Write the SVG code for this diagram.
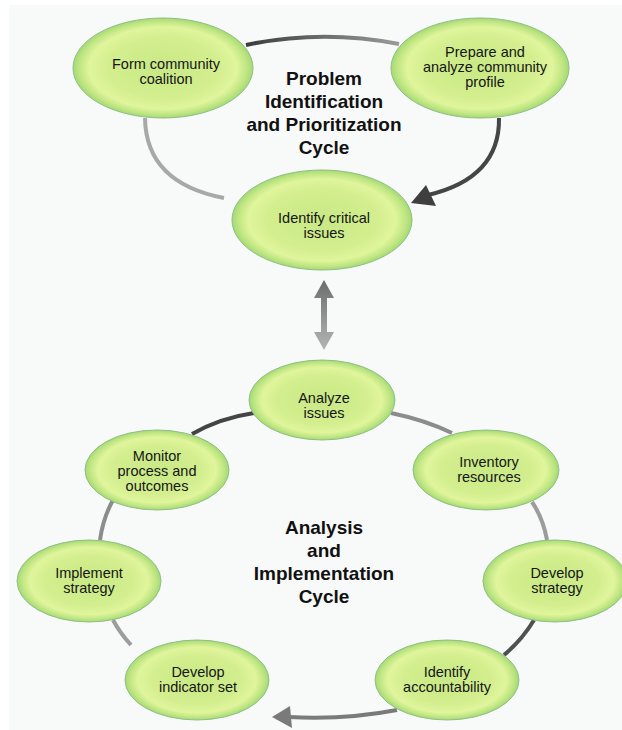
<svg xmlns="http://www.w3.org/2000/svg" width="622" height="730" viewBox="0 0 622 730">
<defs>
<radialGradient id="gEll" cx="50%" cy="50%" r="50%">
<stop offset="0" stop-color="#c8e985"/>
<stop offset="0.6" stop-color="#d3ee8e"/>
<stop offset="0.82" stop-color="#e0f59c"/>
<stop offset="0.93" stop-color="#c0e683"/>
<stop offset="1" stop-color="#a3da74"/>
</radialGradient>
<linearGradient id="gTop" x1="0" y1="0" x2="1" y2="0">
<stop offset="0" stop-color="#3c3c3c"/>
<stop offset="1" stop-color="#9a9a9a"/>
</linearGradient>
<linearGradient id="gVert" x1="0" y1="0" x2="0" y2="1">
<stop offset="0" stop-color="#6c6c6c"/>
<stop offset="1" stop-color="#b4b4b4"/>
</linearGradient>
</defs>
<style>
.node ellipse{fill:url(#gEll);stroke:#8fbf85;stroke-width:1}
.node text{font-family:"Liberation Sans","Lato",sans-serif;font-size:14.5px;fill:#151515;text-anchor:middle}
.title{font-family:"Liberation Sans","Lato",sans-serif;font-weight:bold;font-size:19px;fill:#111;text-anchor:middle}
.c{fill:none;stroke-width:4;stroke-linecap:butt}
</style>
<rect x="0" y="0" width="622" height="730" fill="#ffffff"/>
<rect x="9" y="5" width="613" height="725" fill="#f8f9f9"/>

<g id="connectors">
<path class="c" d="M246,45 Q322,29 399,44" stroke="url(#gTop)"/>
<path class="c" d="M145,118 Q146,183 224,198" stroke="#a8a8a8"/>
<path class="c" d="M499,118 Q500,178 428,195" stroke="#454545"/>
<polygon points="411,203 426,185 436,206" fill="#3f3f3f"/>
<polygon points="324,280 334,298 327,298 327,332 334,332 324,350 314,332 321,332 321,298 314,298" fill="url(#gVert)"/>
<path class="c" d="M192,434 Q220,418 254,413" stroke="#444"/>
<path class="c" d="M391,413 Q425,420 452,433" stroke="#8c8c8c"/>
<path class="c" d="M532,502 Q543,518 547,540" stroke="#9c9c9c"/>
<path class="c" d="M534,620 Q522,640 504,655" stroke="#505050"/>
<path class="c" d="M397,710 Q345,720 289,717" stroke="#7a7a7a"/>
<polygon points="272,717 290,706 292,728" fill="#7a7a7a"/>
<path class="c" d="M131,645 Q120,633 113,620" stroke="#9c9c9c"/>
<path class="c" d="M100,540 Q103,518 113,500" stroke="#8c8c8c"/>
</g>

<text class="title" x="324" y="85">Problem</text>
<text class="title" x="324" y="108">Identification</text>
<text class="title" x="324" y="131">and Prioritization</text>
<text class="title" x="324" y="154">Cycle</text>

<text class="title" x="324" y="534">Analysis</text>
<text class="title" x="324" y="557">and</text>
<text class="title" x="324" y="580">Implementation</text>
<text class="title" x="324" y="603">Cycle</text>

<g id="n-form" class="node">
<ellipse cx="163" cy="68" rx="90" ry="50"/>
<text x="166" y="69">Form community</text>
<text x="166" y="84">coalition</text>
</g>
<g id="n-prepare" class="node">
<ellipse cx="480" cy="68" rx="89" ry="50"/>
<text x="485" y="57">Prepare and</text>
<text x="485" y="72">analyze community</text>
<text x="485" y="87">profile</text>
</g>
<g id="n-identify" class="node">
<ellipse cx="322" cy="220" rx="90" ry="50"/>
<text x="324" y="223">Identify critical</text>
<text x="324" y="238">issues</text>
</g>
<g id="n-analyze" class="node">
<ellipse cx="322" cy="400" rx="73" ry="40"/>
<text x="324" y="403">Analyze</text>
<text x="324" y="418">issues</text>
</g>
<g id="n-inventory" class="node">
<ellipse cx="486" cy="470" rx="73" ry="40"/>
<text x="489" y="467">Inventory</text>
<text x="489" y="482">resources</text>
</g>
<g id="n-devstrategy" class="node">
<ellipse cx="555" cy="581" rx="72" ry="41"/>
<text x="557" y="578">Develop</text>
<text x="557" y="593">strategy</text>
</g>
<g id="n-accountability" class="node">
<ellipse cx="447" cy="680" rx="72" ry="40"/>
<text x="447" y="677">Identify</text>
<text x="447" y="692">accountability</text>
</g>
<g id="n-indicator" class="node">
<ellipse cx="197" cy="680" rx="72" ry="40"/>
<text x="198" y="677">Develop</text>
<text x="198" y="692">indicator set</text>
</g>
<g id="n-implement" class="node">
<ellipse cx="89" cy="581" rx="72" ry="41"/>
<text x="89" y="578">Implement</text>
<text x="89" y="593">strategy</text>
</g>
<g id="n-monitor" class="node">
<ellipse cx="157" cy="470" rx="72" ry="40"/>
<text x="157" y="461">Monitor</text>
<text x="157" y="476">process and</text>
<text x="157" y="491">outcomes</text>
</g>
</svg>
